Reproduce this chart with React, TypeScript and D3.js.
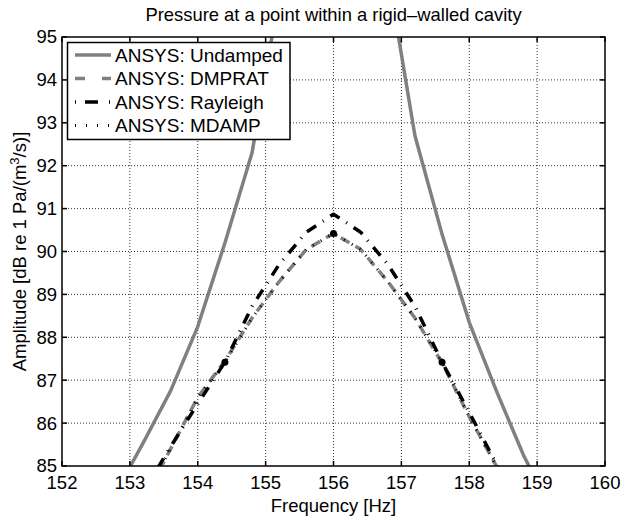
import React, { useEffect, useRef } from 'react';
import * as d3 from 'd3';

// frequency axis values [Hz]
const freqUndamped = [152.8, 153.2, 153.6, 154.0, 154.4, 154.8, 155.2, 155.6, 156.0, 156.4, 156.8, 157.2, 157.6, 158.0, 158.4, 158.8, 159.2];
const undamped = [84.4, 85.55, 86.75, 88.25, 90.2, 92.3, 96.0, 102.0, 120.0, 102.0, 96.5, 92.7, 90.4, 88.35, 86.75, 85.25, 84.0];

const freqDamped = [153.2, 153.6, 154.0, 154.4, 154.8, 155.2, 155.6, 156.0, 156.4, 156.8, 157.2, 157.6, 158.0, 158.4, 158.8];
const dmprat = [84.2, 85.4, 86.6, 87.45, 88.45, 89.3, 90.05, 90.42, 90.05, 89.3, 88.45, 87.4, 86.15, 85.0, 83.8];
const rayleigh = [84.4, 85.45, 86.45, 87.42, 88.72, 89.7, 90.45, 90.87, 90.45, 89.7, 88.72, 87.42, 86.25, 85.05, 83.7];
const mdamp = [84.25, 85.4, 86.6, 87.42, 88.45, 89.3, 90.05, 90.42, 90.05, 89.3, 88.45, 87.42, 86.15, 85.0, 83.8];
const mdampMarkers = [154.4, 156.0, 157.6];

const xTicks = [152, 153, 154, 155, 156, 157, 158, 159, 160];
const yTicks = [85, 86, 87, 88, 89, 90, 91, 92, 93, 94, 95];

const seriesNames = ['ANSYS: Undamped', 'ANSYS: DMPRAT', 'ANSYS: Rayleigh', 'ANSYS: MDAMP'];

const W = 622;
const H = 518;
const FONT = '"Liberation Sans", Arial, Helvetica, sans-serif';

const styles = [
  { color: '#808080', width: 3.5, dash: null as string | null },
  { color: '#808080', width: 3.5, dash: '10,7' },
  { color: '#000000', width: 3.5, dash: '11,8,1,8' },
  { color: '#000000', width: 3, dash: '1,8' },
];

export default function App() {
  const ref = useRef<SVGSVGElement>(null);

  useEffect(() => {
    if (!ref.current) return;
    const svg = d3.select(ref.current);
    svg.selectAll('*').remove();

    const margin = { top: 37, right: 17, bottom: 52, left: 62 };
    const x = d3.scaleLinear().domain([152, 160]).range([margin.left, W - margin.right]);
    const y = d3.scaleLinear().domain([85, 95]).range([H - margin.bottom, margin.top]);
    const [x0, x1] = x.range();
    const [y0, y1] = y.range(); // y0 bottom, y1 top

    svg.append('rect').attr('width', W).attr('height', H).attr('fill', '#fff');

    svg.append('defs').append('clipPath').attr('id', 'plotClip')
      .append('rect').attr('x', x0).attr('y', y1).attr('width', x1 - x0).attr('height', y0 - y1);

    // grid lines
    const grid = svg.append('g').attr('stroke', '#000').attr('stroke-width', 0.8).attr('stroke-dasharray', '1,2');
    xTicks.slice(1, -1).forEach(t => {
      grid.append('line').attr('x1', x(t)).attr('x2', x(t)).attr('y1', y0).attr('y2', y1);
    });
    yTicks.slice(1, -1).forEach(t => {
      grid.append('line').attr('x1', x0).attr('x2', x1).attr('y1', y(t)).attr('y2', y(t));
    });

    // data lines
    const plot = svg.append('g').attr('clip-path', 'url(#plotClip)');
    const line = d3.line<[number, number]>().x(d => x(d[0])).y(d => y(d[1]));
    const all: [number, number][][] = [
      freqUndamped.map((f, i) => [f, undamped[i]]),
      freqDamped.map((f, i) => [f, dmprat[i]]),
      freqDamped.map((f, i) => [f, rayleigh[i]]),
      freqDamped.map((f, i) => [f, mdamp[i]]),
    ];
    all.forEach((pts, i) => {
      const s = styles[i];
      const p = plot.append('path')
        .attr('d', line(pts))
        .attr('fill', 'none')
        .attr('stroke', s.color)
        .attr('stroke-width', s.width)
        .attr('stroke-linejoin', 'round');
      if (s.dash) p.attr('stroke-dasharray', s.dash);
    });
    mdampMarkers.forEach(f => {
      const i = freqDamped.indexOf(f);
      plot.append('circle').attr('cx', x(f)).attr('cy', y(mdamp[i])).attr('r', 3.5).attr('fill', '#000');
    });

    // axes box + inward ticks
    const ax = svg.append('g').attr('stroke', '#000').attr('stroke-width', 1.5);
    ax.append('rect').attr('x', x0).attr('y', y1).attr('width', x1 - x0).attr('height', y0 - y1).attr('fill', 'none');
    const tl = 5;
    xTicks.forEach(t => {
      ax.append('line').attr('x1', x(t)).attr('x2', x(t)).attr('y1', y0).attr('y2', y0 - tl);
      ax.append('line').attr('x1', x(t)).attr('x2', x(t)).attr('y1', y1).attr('y2', y1 + tl);
    });
    yTicks.forEach(t => {
      ax.append('line').attr('x1', x0).attr('x2', x0 + tl).attr('y1', y(t)).attr('y2', y(t));
      ax.append('line').attr('x1', x1).attr('x2', x1 - tl).attr('y1', y(t)).attr('y2', y(t));
    });

    const labels = svg.append('g').attr('font-family', FONT).attr('fill', '#000');
    xTicks.forEach(t => {
      labels.append('text').attr('x', x(t)).attr('y', y0 + 22.5).attr('text-anchor', 'middle')
        .attr('font-size', 18.5).text(String(t));
    });
    yTicks.forEach(t => {
      labels.append('text').attr('x', x0 - 5).attr('y', y(t)).attr('dy', '0.35em').attr('text-anchor', 'end')
        .attr('font-size', 18.5).text(String(t));
    });

    // title and axis labels
    labels.append('text').attr('x', (x0 + x1) / 2).attr('y', 21).attr('text-anchor', 'middle')
      .attr('font-size', 18.4).text('Pressure at a point within a rigid\u2013walled cavity');
    labels.append('text').attr('x', (x0 + x1) / 2).attr('y', 512).attr('text-anchor', 'middle')
      .attr('font-size', 18.5).text('Frequency [Hz]');
    const yl = labels.append('text')
      .attr('transform', `translate(26,${(y0 + y1) / 2}) rotate(-90)`)
      .attr('text-anchor', 'middle').attr('font-size', 18.5);
    yl.append('tspan').text('Amplitude [dB re 1 Pa/(m');
    yl.append('tspan').attr('font-size', 13).attr('dy', -7).text('3');
    yl.append('tspan').attr('dy', 7).text('/s)]');

    // legend
    const lg = svg.append('g');
    lg.append('rect').attr('x', 67.5).attr('y', 42.5).attr('width', 222.5).attr('height', 97)
      .attr('fill', '#fff').attr('stroke', '#000').attr('stroke-width', 1.5);
    seriesNames.forEach((name, i) => {
      const ry = 55 + i * 23.5;
      const s = styles[i];
      const l = lg.append('line').attr('x1', 75).attr('x2', 111).attr('y1', ry).attr('y2', ry)
        .attr('stroke', s.color).attr('stroke-width', s.width);
      if (i === 1) l.attr('stroke-dasharray', '10,17');
      else if (i === 2) l.attr('stroke-dasharray', '1,9,13,11,1');
      else if (i === 3) l.attr('stroke-dasharray', '1,10');
      lg.append('text').attr('x', 115).attr('y', ry).attr('dy', '0.35em')
        .attr('font-family', FONT).attr('font-size', 19).text(name);
    });
  }, []);

  return (
    <svg ref={ref} width={W} height={H}
      style={{ position: 'absolute', left: 0, top: 0, display: 'block' }} />
  );
}
